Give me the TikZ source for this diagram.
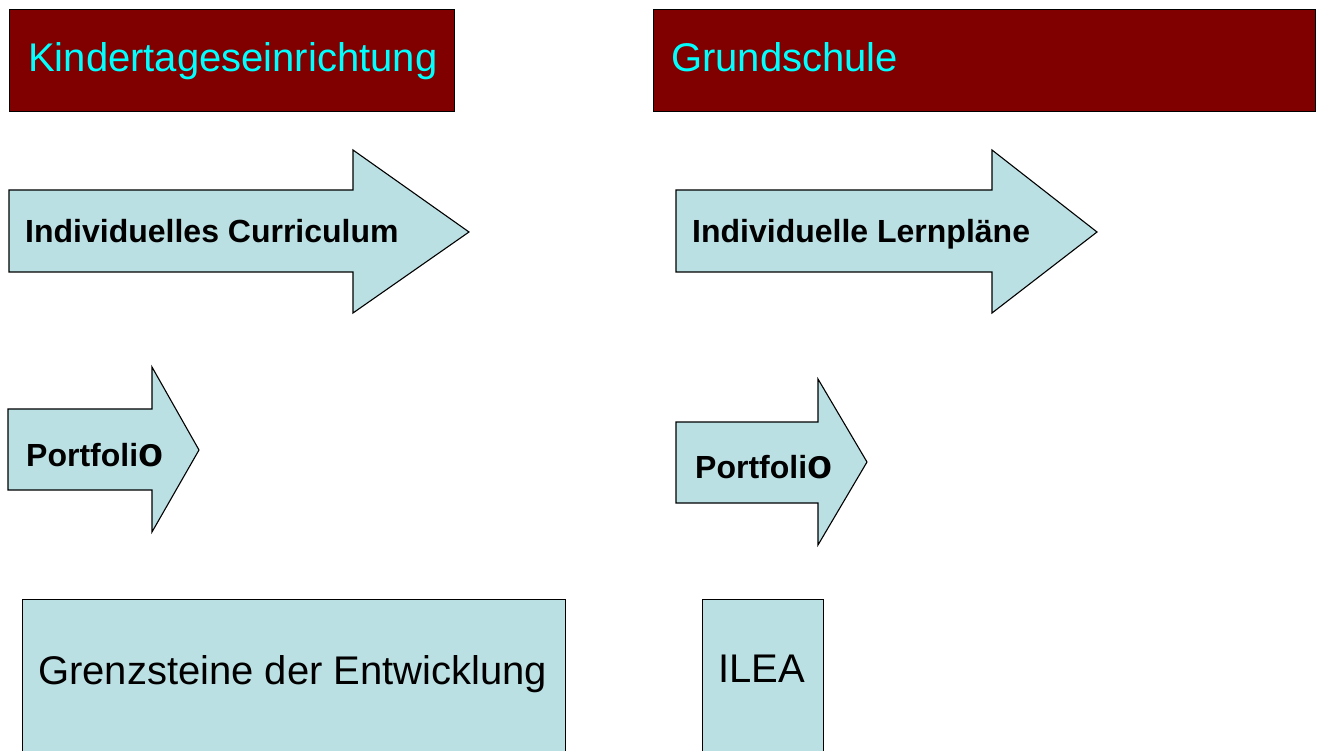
\documentclass[tikz,border=0pt]{standalone}
\usepackage{fontspec}
\setmainfont{Liberation Sans}
\usepackage{xcolor}
\usetikzlibrary{positioning}
\definecolor{kopfrot}{RGB}{128,0,0}
\definecolor{kopfcyan}{RGB}{0,255,255}
\definecolor{hellblau}{RGB}{187,224,227}
\tikzset{
    kopf/.style = {draw=black, fill=kopfrot, line width=1.3pt, inner sep=0pt, anchor=north west},
    kopftext/.style = {anchor=base west, inner sep=0pt, text=kopfcyan, font=\fontsize{40}{48}\selectfont},
    pfeilform/.style = {draw=black, fill=hellblau, line width=1.1pt, line join=miter},
    pfeiltext/.style = {anchor=base west, inner sep=0pt, font=\bfseries\fontsize{32}{38}\selectfont},
    kasten/.style = {draw=black, fill=hellblau, line width=1.3pt, inner sep=0pt, anchor=north west},
    kastentext/.style = {anchor=base west, inner sep=0pt, font=\fontsize{40}{48}\selectfont}
}
\newcommand{\grossO}{{\fontsize{41}{48}\selectfont o}}

\begin{document}
\begin{tikzpicture}[x=1pt, y=-1pt]
    \clip (0,0) rectangle (1318,751);

    % Kopfzeilen
    \node [kopf, minimum width=445pt, minimum height=102pt] (kita) at (9,9) {};
    \node [kopftext] (kitatext) at (28,72) {Kindertageseinrichtung};
    \node [kopf, minimum width=662pt, minimum height=102pt] (schule) at (653,9) {};
    \node [kopftext] (schuletext) at (671,72) {Grundschule};

    % Pfeile
    \draw [pfeilform] (9,190) -- (353,190) -- (353,150) -- (469,232) -- (353,313) -- (353,272) -- (9,272) -- cycle;
    \node [pfeiltext] (curriculum) at (25,243) {Individuelles Curriculum};
    \draw [pfeilform] (676,190) -- (992,190) -- (992,150) -- (1097,232) -- (992,313) -- (992,272) -- (676,272) -- cycle;
    \node [pfeiltext] (lernplaene) at (692,243) {Individuelle Lernpläne};

    \draw [pfeilform] (8,409) -- (152,409) -- (152,367) -- (199,450) -- (152,532) -- (152,490) -- (8,490) -- cycle;
    \node [pfeiltext] (portfolioa) at (26,466) {Portfoli\grossO};
    \draw [pfeilform] (676,422) -- (818,422) -- (818,379) -- (867,462) -- (818,545) -- (818,503) -- (676,503) -- cycle;
    \node [pfeiltext] (portfoliob) at (695,478) {Portfoli\grossO};

    % Kaesten unten
    \node [kasten, minimum width=543pt, minimum height=170pt] (grenz) at (22,599) {};
    \node [kastentext] (grenztext) at (38,684) {Grenzsteine der Entwicklung};
    \node [kasten, minimum width=121pt, minimum height=170pt] (ilea) at (702,599) {};
    \node [kastentext] (ileatext) at (718,682) {ILEA};
\end{tikzpicture}
\end{document}
